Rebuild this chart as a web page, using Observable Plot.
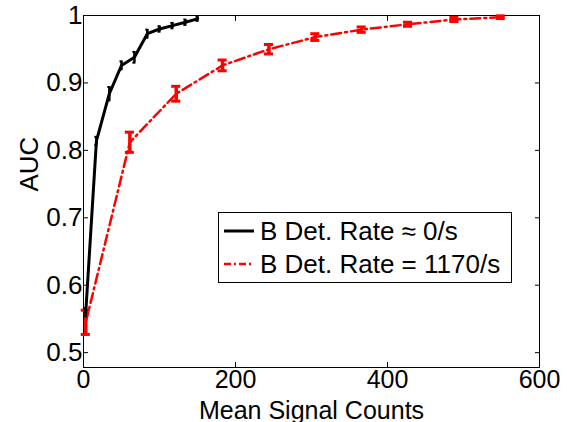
<!DOCTYPE html>
<html>
<head>
<meta charset="utf-8">
<script src="https://cdn.jsdelivr.net/npm/d3@7"></script>
<script src="https://cdn.jsdelivr.net/npm/@observablehq/plot@0.6"></script>
<style>
  html, body { margin: 0; padding: 0; background: #fff; }
  #wrap { position: relative; width: 567px; height: 422px; font-family: "Liberation Sans", Arial, Helvetica, sans-serif; }
  #legend { position: absolute; left: 218px; top: 212px; width: 294px; height: 71px; border: 1px solid #000; background: #fff; box-sizing: border-box; font-size: 26px; color: #000; }
  .row { position: absolute; left: 5px; height: 30px; display: flex; align-items: center; white-space: nowrap; }
  .row svg { margin-right: 6px; }
</style>
</head>
<body>
<div id="wrap"></div>
<script>
// ---- data ----
const blackX   = [3, 17, 34, 50, 67, 84, 100, 117, 134, 150];
const blackAUC = [0.56, 0.814, 0.884, 0.926, 0.938, 0.973, 0.980, 0.985, 0.990, 0.995];
const blackErr = [0.006, 0.006, 0.010, 0.006, 0.008, 0.006, 0.004, 0.004, 0.004, 0.003];

const redX   = [3, 61, 122, 183, 244, 305, 366, 427, 488, 549];
const redAUC = [0.545, 0.812, 0.884, 0.926, 0.950, 0.968, 0.979, 0.987, 0.994, 0.9975];
const redErr = [0.018, 0.015, 0.011, 0.008, 0.007, 0.005, 0.004, 0.003, 0.003, 0.002];

const xTicks = [0, 200, 400, 600];
const yTicks = [0.5, 0.6, 0.7, 0.8, 0.9, 1];
const seriesNames = ["B Det. Rate \u2248 0/s", "B Det. Rate = 1170/s"];

const black = blackX.map((x, i) => ({x, y: blackAUC[i], e: blackErr[i]}));
const red = redX.map((x, i) => ({x, y: redAUC[i], e: redErr[i]}));
const capHalf = 6; // cap half-width in x units

const fmt = d => String(+d.toFixed(1));

const chart = Plot.plot({
  width: 567,
  height: 422,
  marginLeft: 83,
  marginRight: 28,
  marginTop: 15,
  marginBottom: 55,
  style: {fontFamily: '"Liberation Sans", Arial, Helvetica, sans-serif', fontSize: "25px", background: "#fff", color: "#000"},
  x: {domain: [0, 600]},
  y: {domain: [0.478, 1]},
  marks: [
    Plot.frame({stroke: "#000", strokeWidth: 1}),
    Plot.axisX(xTicks, {anchor: "bottom", tickSize: -5, tickPadding: 8, label: null, tickFormat: d => String(d), fontSize: 25}),
    Plot.axisX(xTicks, {anchor: "top", tickSize: -5, label: null, tickFormat: () => ""}),
    Plot.axisY(yTicks, {anchor: "left", tickSize: -5, tickPadding: 6, label: null, tickFormat: fmt, fontSize: 26}),
    Plot.axisY(yTicks, {anchor: "right", tickSize: -5, label: null, tickFormat: () => ""}),
    Plot.text(["Mean Signal Counts"], {frameAnchor: "bottom", dy: 51, fontSize: 25, fill: "#000"}),
    Plot.text(["AUC"], {frameAnchor: "left", dx: -54, rotate: -90, fontSize: 26, fill: "#000"}),
    // red series
    Plot.line(red, {x: "x", y: "y", stroke: "#ff0000", strokeWidth: 2.5, strokeDasharray: "10,4,2,4"}),
    Plot.ruleX(red, {x: "x", y1: d => d.y - d.e, y2: d => d.y + d.e, stroke: "#ff0000", strokeWidth: 3.5}),
    Plot.ruleY(red, {y: d => d.y - d.e, x1: d => d.x - capHalf, x2: d => d.x + capHalf, stroke: "#ff0000", strokeWidth: 3}),
    Plot.ruleY(red, {y: d => d.y + d.e, x1: d => d.x - capHalf, x2: d => d.x + capHalf, stroke: "#ff0000", strokeWidth: 3}),
    // black series
    Plot.line(black, {x: "x", y: "y", stroke: "#000", strokeWidth: 3}),
    Plot.ruleX(black, {x: "x", y1: d => d.y - d.e, y2: d => d.y + d.e, stroke: "#000", strokeWidth: 2.5}),
    Plot.ruleY(black, {y: d => d.y - d.e, x1: d => d.x - 2, x2: d => d.x + 2, stroke: "#000", strokeWidth: 2}),
    Plot.ruleY(black, {y: d => d.y + d.e, x1: d => d.x - 2, x2: d => d.x + 2, stroke: "#000", strokeWidth: 2})
  ]
});

const wrap = document.getElementById("wrap");
wrap.appendChild(chart);

const legend = document.createElement("div");
legend.id = "legend";
legend.innerHTML = `
  <div class="row" style="top:3px">
    <svg width="30" height="10"><line x1="0" y1="5" x2="30" y2="5" stroke="#000" stroke-width="3"/></svg>
    <span>${seriesNames[0]}</span>
  </div>
  <div class="row" style="top:36px">
    <svg width="30" height="10"><line x1="0" y1="5" x2="30" y2="5" stroke="#ff0000" stroke-width="2.5" stroke-dasharray="7,3,2,3"/></svg>
    <span>${seriesNames[1]}</span>
  </div>`;
wrap.appendChild(legend);
</script>
</body>
</html>
